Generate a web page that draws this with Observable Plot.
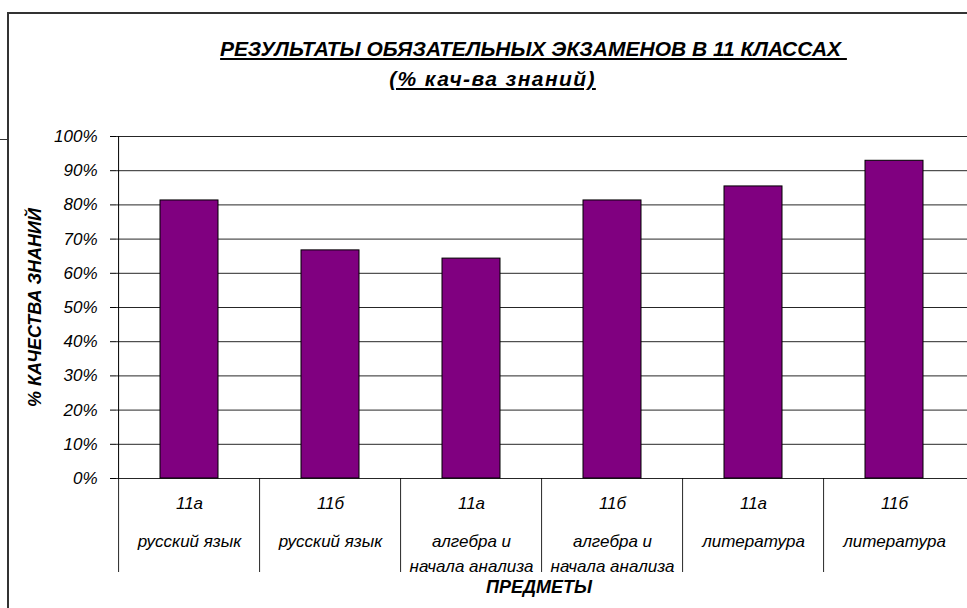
<!DOCTYPE html>
<html>
<head>
<meta charset="utf-8">
<script src="https://cdn.jsdelivr.net/npm/d3@7"></script>
<script src="https://cdn.jsdelivr.net/npm/@observablehq/plot@0.6"></script>
<style>
  html, body { margin: 0; padding: 0; background: #fff; }
  #wrap { position: relative; width: 967px; height: 608px; overflow: hidden; font-family: "Liberation Sans", Arial, sans-serif; }
  #border { position: absolute; left: 7px; top: 12px; width: 2000px; height: 2000px; border-left: 2px solid #333; border-top: 2px solid #333; }
  #stub { position: absolute; left: 0; top: 139px; width: 8px; height: 0; border-top: 1px solid #333; }
  .title { position: absolute; width: 967px; text-align: center; font-weight: bold; font-style: italic; font-size: 21px; text-decoration: underline; color: #000; white-space: pre; }
  #chart { position: absolute; left: 0; top: 0; }
</style>
</head>
<body>
<div id="wrap">
  <div id="border"></div>
  <div id="stub"></div>
  <div class="title" id="t1" style="top:37px; left:50px;">РЕЗУЛЬТАТЫ ОБЯЗАТЕЛЬНЫХ ЭКЗАМЕНОВ В 11 КЛАССАХ </div>
  <div class="title" id="t2" style="top:67px; left:9px; letter-spacing:1.4px;">(% кач-ва знаний)</div>
  <div id="chart"></div>
</div>
<script>
// ---- data ----
const classes  = ["11а", "11б", "11а", "11б", "11а", "11б"];
const subjects = ["русский язык", "русский язык", "алгебра и\nначала анализа", "алгебра и\nначала анализа", "литература", "литература"];
const values   = [0.813, 0.667, 0.643, 0.813, 0.854, 0.929];
const yTicks   = [0, 0.1, 0.2, 0.3, 0.4, 0.5, 0.6, 0.7, 0.8, 0.9, 1.0];
const yTitle   = "% КАЧЕСТВА ЗНАНИЙ";
const xTitle   = "ПРЕДМЕТЫ";

const ids = classes.map((c, i) => String(i));
const data = ids.map((id, i) => ({id, cls: classes[i], subject: subjects[i], value: values[i]}));

// ---- layout ----
const W = 967, H = 608, mL = 116, mR = 0, mT = 136, mB = 130;
const step = (W - mL - mR) / ids.length;
const yDomain = [0, 1];
const pxPerUnit = (H - mT - mB) / (yDomain[1] - yDomain[0]);
const sepBelow = -94 / pxPerUnit; // separators extend 94px below the axis

const chart = Plot.plot({
  width: W, height: H,
  marginLeft: mL, marginRight: mR, marginTop: mT, marginBottom: mB,
  style: {fontFamily: "'Liberation Sans', Arial, sans-serif", fontSize: "17px", fontStyle: "italic", background: "transparent", overflow: "visible", color: "#000"},
  x: {domain: ids, paddingInner: 0.59, paddingOuter: 0.295, axis: null},
  y: {domain: yDomain, ticks: yTicks, tickFormat: d3.format(".0%"), tickSize: 6, tickPadding: 13, label: null},
  marks: [
    Plot.ruleY(yTicks, {stroke: "#000", strokeOpacity: 0.85}),
    Plot.ruleX([ids[0]], {dx: -step / 2, y1: yDomain[0], y2: yDomain[1], stroke: "#000"}),
    Plot.ruleX(ids, {dx: -step / 2, y1: yDomain[0], y2: sepBelow, stroke: "#000", strokeOpacity: 0.85}),
    Plot.barY(data, {x: "id", y: "value", fill: "#800080", stroke: "#000", strokeWidth: 1}),
    Plot.text(data, {x: "id", y: () => 0, text: "cls", dy: 25, fill: "#000", fontSize: 17}),
    Plot.text(data, {x: "id", y: () => 0, text: "subject", lineAnchor: "top", dy: 50, lineHeight: 1.5, fill: "#000", fontSize: 17}),
    Plot.text([yTitle], {frameAnchor: "left", dx: -81, rotate: -90, textAnchor: "middle", fontWeight: "bold", fill: "#000", fontSize: 18}),
    Plot.text([xTitle], {frameAnchor: "bottom", dy: 114, dx: -3, fontWeight: "bold", fill: "#000", fontSize: 18})
  ]
});
document.getElementById("chart").appendChild(chart);
</script>
</body>
</html>
